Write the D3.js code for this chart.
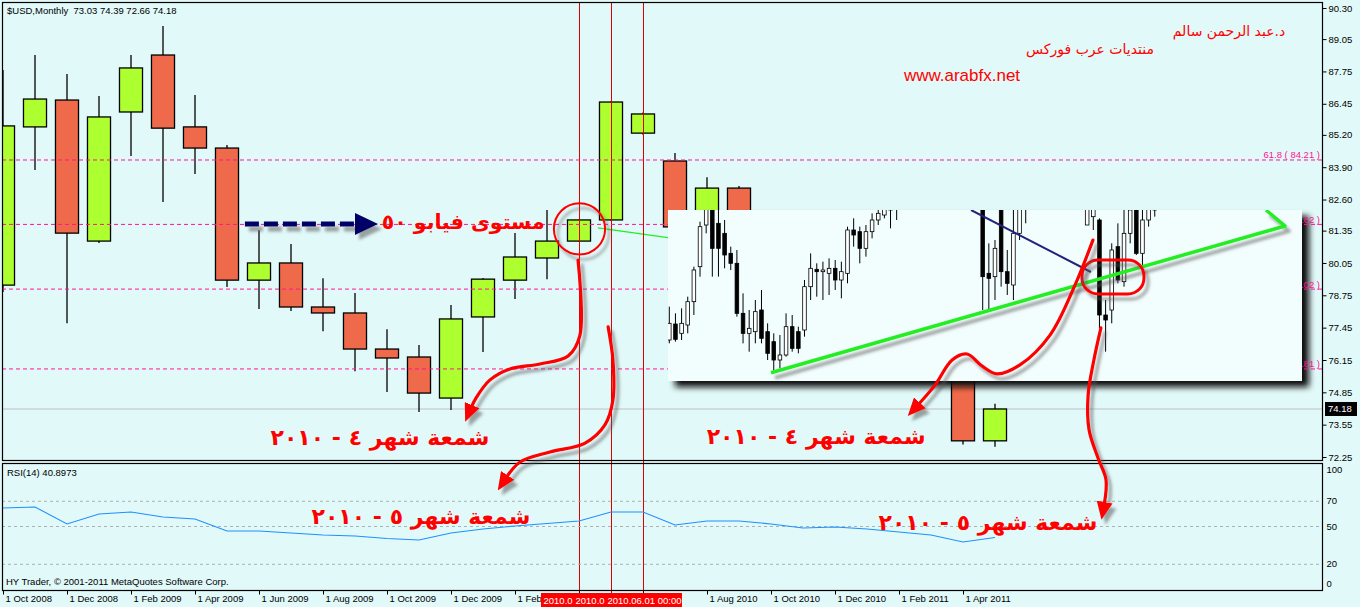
<!DOCTYPE html>
<html>
<head>
<meta charset="utf-8">
<script src="https://cdn.jsdelivr.net/npm/d3@7/dist/d3.min.js"></script>
<style>
  html, body { margin:0; padding:0; background:#e2f9f9; overflow:hidden; }
  svg { display:block; }
</style>
</head>
<body>
<svg id="chart" width="1360" height="607"></svg>
<script>
// ================= DATA =================
const months = ["2008-10","2008-11","2008-12","2009-01","2009-02","2009-03","2009-04","2009-05","2009-06","2009-07","2009-08","2009-09","2009-10","2009-11","2009-12","2010-01","2010-02","2010-03","2010-04","2010-05","2010-06","2010-07","2010-08","2010-09","2010-10","2010-11","2010-12","2011-01","2011-02","2011-03","2011-04","2011-05"];
const open  = [79.16,85.52,86.60,80.93,86.12,88.41,85.52,84.67,79.36,80.05,78.28,78.04,76.59,76.27,74.62,77.88,79.36,80.25,80.93,81.78,85.27,84.15,81.50,83.06,79.00,77.30,81.20,79.00,77.30,76.80,76.00,72.90];
const high  = [87.81,88.41,87.65,86.76,88.41,89.58,86.80,84.79,81.37,80.81,79.44,78.84,77.39,76.75,78.36,79.45,81.25,82.18,81.80,86.55,86.10,84.47,83.50,83.14,79.50,81.40,81.40,81.00,78.60,77.30,76.40,74.39];
const low   = [78.88,83.79,77.63,80.85,84.35,82.50,83.63,79.08,78.20,78.12,77.31,75.70,74.86,74.06,74.14,76.47,78.60,79.40,80.90,81.75,85.20,81.30,80.80,78.90,75.70,76.60,78.90,76.90,76.10,75.90,72.75,72.66];
const close = [85.56,86.64,81.25,85.92,87.89,85.47,84.67,79.36,80.05,78.28,78.04,76.59,76.23,74.82,77.80,79.40,80.29,80.93,81.78,86.52,86.04,81.50,83.06,79.00,77.40,81.20,79.00,77.40,76.80,76.00,72.90,74.18];
const rsi   = [64.3,65.1,51.6,59.5,61.1,57.1,55.6,46.0,46.0,44.4,42.9,42.1,40.1,38.9,44.4,47.6,50.0,52.0,54.0,61.1,61.1,50.8,54.0,54.0,51.6,48.4,49.2,47.6,45.2,42.9,37.3,40.9];

const priceTicks = [90.30,89.05,87.75,86.45,85.20,83.90,82.60,81.35,80.05,78.75,77.45,76.15,74.85,73.55,72.25];
const rsiTicks = [100,70,50,20,0];
const rsiLevels = [70,50,20];
const dateTickIdx = [0,2,4,6,8,10,12,14,16,18,20,22,24,26,28,30];
// labels at 1 Apr 2010 / 1 Jun 2010 are hidden behind the red line labels in the original
const dateTickLabels = ["1 Oct 2008","1 Dec 2008","1 Feb 2009","1 Apr 2009","1 Jun 2009","1 Aug 2009","1 Oct 2009","1 Dec 2009","1 Feb","","","1 Aug 2010","1 Oct 2010","1 Dec 2010","1 Feb 2011","1 Apr 2011"];
const fibPct   = ["61.8","50.0","38.2","23.6"];
const fibPrice = [84.21,81.62,79.02,75.81];
const vlineIdx = [18,19,20];
const vlineLabels = ["2010.0","2010.0","2010.06.01 00:00"];
const bidPrice = 74.18;
const headerText = "$USD,Monthly\u00A0 73.03 74.39 72.66 74.18";
const rsiText = "RSI(14) 40.8973";
const footerText = "HY Trader, \u00A9 2001-2011 MetaQuotes Software Corp.";

// inset (pasted daily chart) : day index, open, high, low, close (in inset units)
const insetDay = [0,1,2,3,4,5,6,7,8,9,10,11,12,13,14,15,16,17,18,19,20,21,22,23,24,25,26,27,28,29,30,31,32,33,34,35,36,37,51,52,53,54,55,56,57,58,68,69,70,71,72,73,74,75,76,77,78,79];
const insetO = [15,19.8,17,19.5,26.5,37,49.5,56,50,47,41,38,23,17,17.5,24,17.5,14.5,9,10.5,19,17.5,18,31,36.2,35.5,35,36.5,33,35,48,47.5,42.5,47.5,51,52.5,54,56,58,35,34,57,35.5,31.5,47,55,49.5,52,51,22.5,24,43,32.5,47,57,41,51,54];
const insetH = [25,23,24.5,28,37,50.5,58,58,57,51,43,42,29,24,27,30,20,17,16.5,23,22.5,19,33,41,38,38.5,39.5,39,38.5,49,51.5,49,49.5,53,56,58,58,59,60,44,45,59,42,58,59,60,59,59,51.5,27,44,50,56,58,59,58,58,58];
const insetL = [14,14.5,15,17,22.5,34,47,34,34,36.5,36,22,14,11.5,14,14,9,6,6.5,10,11.5,11,16,27,28,27,28.5,30,27.5,32,43,38,40,45.5,49.5,51.5,48.5,51,24,24,27,31,28.5,27,45,50,49.5,48,18.5,11.5,20,32,31,44,40.5,37,49,52];
const insetC = [20,15.2,20,26.5,36,49,56,42.5,42.5,40.5,38,23,17,18.5,23.5,15.5,11,9,10.5,19,12.5,12.5,31,36.5,35.5,36,36.5,33,35.5,48,46.5,42.5,47.5,51,53,56,57,58,34,33.5,42.5,35.5,32,47,56,58,57,57,22.5,21,42,33,47,54,41,51,56,57];
const insetTrend = [[16.55,5.19],[100.2,49.2],[97.1,54]];
const insetNavy  = [[49.1,54],[68.6,35.4]];
const insetRing  = {d:72.2, v:33.9};

// main-chart drawn objects (month index, price)
const greenTrend = [[18.59,81.46],[20.78,81.07]];
const ringApr = {m:18.0, p:81.42};
const dashArrow = {m0:7.56, m1:11.0, mTip:11.72, p:81.62};
const arrowA = [[17.97,80.17],[18.03,77.15],[17.66,76.31],[16.78,75.99],[15.84,75.79],[15.22,75.35],[14.78,74.62],[14.625,74.22]];
const arrowB = [[18.91,77.48],[19.06,76.15],[19.06,74.54],[18.81,73.54],[18.19,72.81],[17.09,72.45],[16.16,72.05],[15.72,71.41]];
const arrowC = [[34.06,80.97],[33.5,79.16],[32.72,77.15],[31.78,75.95],[31.06,75.59],[30.59,75.91],[30.125,76.39],[29.66,76.15],[29.125,75.14],[28.59,74.34]];
const arrowD = [[34.31,77.44],[34.09,76.15],[33.91,74.74],[33.94,73.34],[34.22,72.21],[34.47,71.33],[34.41,70.32]];
const notes = [
  {t:"مستوى فيابو ٥٠", m:14.38, p:81.70, s:20.5},
  {t:"شمعة شهر ٤ - ٢٠١٠", m:11.78, p:73.05, s:22},
  {t:"شمعة شهر ٥ - ٢٠١٠", m:13.06, p:69.84, s:22},
  {t:"شمعة شهر ٤ - ٢٠١٠", m:25.41, p:73.09, s:22},
  {t:"شمعة شهر ٥ - ٢٠١٠", m:30.78, p:69.60, s:22}
];
const signature = ["د.عبد الرحمن سالم","منتديات عرب فوركس","www.arabfx.net"];

// ================= LAYOUT / STYLE =================
const W = 1360, H = 607;
const L = {left:2, right:1322, top:2, mainBottom:460, rsiTop:463, rsiBottom:590};
const INSET = {x:668, y:210, w:634, h:171};
const C = {bg:"#e2f9f9", up:"#adff2f", down:"#ef6a4a", fib:"#ff1493", vline:"#e00000",
           rsi:"#1e90ff", grid:"#a9b3b3", bid:"#c0c0c0", red:"#ff0000", navy:"#000066"};
const FONT = "'Liberation Sans', Arial, sans-serif";
const AFONT = "'DejaVu Sans', sans-serif";

const svg = d3.select("#chart");
svg.append("rect").attr("width",W).attr("height",H).attr("fill",C.bg);

const x  = d3.scaleLinear().domain([0, months.length-1]).range([3, 995]);
const y  = d3.scaleLinear().domain([72.25, 90.30]).range([457, 8]);
const yR = d3.scaleLinear().domain([0,100]).range([589, 463]);
const xi = d3.scaleLinear().domain([0,100]).range([669.3, 1283.8]);
const yi = d3.scaleLinear().domain([0,57]).range([390, 200]);

// ---------- defs ----------
const defs = svg.append("defs");
defs.append("clipPath").attr("id","clipMain").append("rect")
  .attr("x",L.left).attr("y",L.top).attr("width",L.right-L.left).attr("height",L.mainBottom-L.top);
defs.append("clipPath").attr("id","clipRsi").append("rect")
  .attr("x",L.left).attr("y",L.rsiTop).attr("width",L.right-L.left).attr("height",L.rsiBottom-L.rsiTop);
defs.append("clipPath").attr("id","clipInset").append("rect")
  .attr("x",INSET.x).attr("y",INSET.y).attr("width",INSET.w).attr("height",INSET.h);
const fs = defs.append("filter").attr("id","shadow").attr("filterUnits","userSpaceOnUse")
  .attr("x",0).attr("y",0).attr("width",W).attr("height",H);
fs.append("feDropShadow").attr("dx",4).attr("dy",5).attr("stdDeviation",1.6)
  .attr("flood-color","#5a5a5a").attr("flood-opacity",0.55);
const fb = defs.append("filter").attr("id","blur").attr("filterUnits","userSpaceOnUse")
  .attr("x",0).attr("y",0).attr("width",W).attr("height",H);
fb.append("feGaussianBlur").attr("stdDeviation",3);
const mk = defs.append("marker").attr("id","ahRed").attr("markerUnits","userSpaceOnUse")
  .attr("viewBox","0 0 18 16").attr("markerWidth",18).attr("markerHeight",16)
  .attr("refX",3).attr("refY",8).attr("orient","auto");
mk.append("path").attr("d","M0,0 L18,8 L0,16 Z").attr("fill",C.red);

// ---------- main panel ----------
const gMain = svg.append("g").attr("clip-path","url(#clipMain)");
gMain.append("line").attr("x1",L.left).attr("x2",L.right)
  .attr("y1",y(bidPrice)).attr("y2",y(bidPrice)).attr("stroke",C.bid).attr("stroke-width",1);

const idx = d3.range(months.length);
const bw = x(0.72) - x(0);
gMain.selectAll("line.wick").data(idx).join("line").attr("class","wick")
  .attr("x1",i=>x(i)).attr("x2",i=>x(i)).attr("y1",i=>y(high[i])).attr("y2",i=>y(low[i]))
  .attr("stroke","#000").attr("stroke-width",1.3);
gMain.selectAll("rect.body").data(idx).join("rect").attr("class","body")
  .attr("x",i=>x(i)-bw/2).attr("width",bw)
  .attr("y",i=>y(Math.max(open[i],close[i])))
  .attr("height",i=>Math.max(1,Math.abs(y(open[i])-y(close[i]))))
  .attr("fill",i=>close[i]>=open[i]?C.up:C.down)
  .attr("stroke","#000").attr("stroke-width",1.3);

// thin green trendline
gMain.append("path").attr("d",d3.line().x(d=>x(d[0])).y(d=>y(d[1]))(greenTrend))
  .attr("stroke","#22ee22").attr("stroke-width",1.2).attr("fill","none");

// vertical lines
svg.selectAll("line.vl").data(vlineIdx).join("line").attr("class","vl")
  .attr("x1",d=>x(d)+0.5).attr("x2",d=>x(d)+0.5).attr("y1",L.top).attr("y2",593)
  .attr("stroke",C.vline).attr("stroke-width",1);

// inset shadow
svg.append("rect").attr("x",INSET.x+7).attr("y",INSET.y+6).attr("width",INSET.w).attr("height",INSET.h)
  .attr("fill","#111").attr("filter","url(#blur)").attr("clip-path","url(#clipMain)");

// fibonacci lines + labels
const gFib = svg.append("g").attr("clip-path","url(#clipMain)");
gFib.selectAll("line").data(fibPrice).join("line")
  .attr("x1",L.left).attr("x2",L.right).attr("y1",d=>y(d)+0.5).attr("y2",d=>y(d)+0.5)
  .attr("stroke",C.fib).attr("stroke-width",1).attr("stroke-dasharray","4,3");
gFib.selectAll("text").data(fibPrice).join("text")
  .attr("x",1320).attr("y",d=>y(d)-1).attr("text-anchor","end")
  .attr("font-family",FONT).attr("font-size",9.5).attr("fill",C.fib)
  .text((d,i)=>`${fibPct[i]} ( ${d.toFixed(2)} )`);

// ---------- inset ----------
svg.append("rect").attr("x",INSET.x).attr("y",INSET.y).attr("width",INSET.w).attr("height",INSET.h)
  .attr("fill","#f2fdfd");
const gIn = svg.append("g").attr("clip-path","url(#clipInset)");
const iIdx = d3.range(insetDay.length);
const ibw = 3.6;
gIn.selectAll("line.iw").data(iIdx).join("line").attr("class","iw")
  .attr("x1",i=>xi(insetDay[i])).attr("x2",i=>xi(insetDay[i]))
  .attr("y1",i=>yi(insetH[i])).attr("y2",i=>yi(insetL[i]))
  .attr("stroke","#000").attr("stroke-width",1);
gIn.selectAll("rect.ib").data(iIdx).join("rect").attr("class","ib")
  .attr("x",i=>xi(insetDay[i])-ibw/2).attr("width",ibw)
  .attr("y",i=>yi(Math.max(insetO[i],insetC[i])))
  .attr("height",i=>Math.max(1,Math.abs(yi(insetO[i])-yi(insetC[i]))))
  .attr("fill",i=>insetC[i]>=insetO[i]?"#ffffff":"#000000")
  .attr("stroke","#000").attr("stroke-width",0.8);
gIn.append("path").attr("d",d3.line().x(d=>xi(d[0])).y(d=>yi(d[1]))(insetNavy))
  .attr("stroke","#22227a").attr("stroke-width",2).attr("fill","none");
gIn.append("path").attr("d",d3.line().x(d=>xi(d[0])).y(d=>yi(d[1]))(insetTrend))
  .attr("stroke","#22ee22").attr("stroke-width",3.5).attr("fill","none")
  .attr("stroke-linejoin","round").attr("filter","url(#shadow)");
gIn.append("rect").attr("x",xi(insetRing.d)-31).attr("y",yi(insetRing.v)-17)
  .attr("width",62).attr("height",34).attr("rx",16)
  .attr("fill","none").attr("stroke",C.red).attr("stroke-width",3).attr("filter","url(#shadow)");

// ---------- RSI panel ----------
const gR = svg.append("g").attr("clip-path","url(#clipRsi)");
gR.selectAll("line.lvl").data(rsiLevels).join("line").attr("class","lvl")
  .attr("x1",L.left).attr("x2",L.right).attr("y1",d=>yR(d)+0.5).attr("y2",d=>yR(d)+0.5)
  .attr("stroke",C.grid).attr("stroke-dasharray","3,3");
gR.append("path").datum(rsi)
  .attr("d",d3.line().x((d,i)=>x(i)).y(d=>yR(d)))
  .attr("stroke",C.rsi).attr("stroke-width",1.1).attr("fill","none");

// ---------- frames ----------
svg.append("rect").attr("x",L.left+0.5).attr("y",L.top+0.5)
  .attr("width",L.right-L.left).attr("height",L.mainBottom-L.top)
  .attr("fill","none").attr("stroke","#000").attr("stroke-width",1.2);
svg.append("rect").attr("x",L.left+0.5).attr("y",L.rsiTop+0.5)
  .attr("width",L.right-L.left).attr("height",L.rsiBottom-L.rsiTop)
  .attr("fill","none").attr("stroke","#000").attr("stroke-width",1.2);

// ---------- axes ----------
const yAxisG = svg.append("g").attr("transform",`translate(${L.right+0.5},0)`)
  .call(d3.axisRight(y).tickValues(priceTicks).tickSize(4).tickPadding(2).tickFormat(d3.format(".2f")));
yAxisG.select(".domain").remove();
yAxisG.attr("font-family",FONT).attr("font-size",9.5);
yAxisG.selectAll("text").attr("fill","#000");
yAxisG.selectAll("line").attr("stroke","#000");

const rAxisG = svg.append("g").attr("transform",`translate(${L.right+0.5},0)`)
  .call(d3.axisRight(yR).tickValues(rsiTicks).tickSize(0).tickPadding(4));
rAxisG.select(".domain").remove();
rAxisG.attr("font-family",FONT).attr("font-size",9.5);
rAxisG.selectAll("text").attr("fill","#000")
  .attr("dy",d=>d===100?"1.0em":(d===0?"-0.3em":"0.32em"));

const xAxisG = svg.append("g").attr("transform",`translate(0,${L.rsiBottom+0.5})`)
  .call(d3.axisBottom(x).tickValues(dateTickIdx).tickSize(4).tickPadding(2)
    .tickFormat(d=>dateTickLabels[dateTickIdx.indexOf(d)]));
xAxisG.select(".domain").remove();
xAxisG.attr("font-family",FONT).attr("font-size",9.5);
xAxisG.selectAll("text").attr("fill","#000").attr("text-anchor","start").attr("x",2).attr("dy","0.55em");
xAxisG.selectAll("line").attr("stroke","#000");

// vertical-line labels on time axis (each partly covered by the next one)
const vlab = svg.append("g");
vlineIdx.forEach((d,i)=>{
  const x0 = x(d) - 38;
  const x1 = i < vlineIdx.length-1 ? x(vlineIdx[i+1]) - 38 : x(d) + 39;
  vlab.append("rect").attr("x",x0).attr("y",593).attr("width",x1-x0).attr("height",14).attr("fill","#ff0000");
  vlab.append("text").attr("x",x0+2.5).attr("y",603.5)
    .attr("font-family",FONT).attr("font-size",9.5).attr("fill","#fff").text(vlineLabels[i]);
});

// bid price label
svg.append("rect").attr("x",1325).attr("y",y(bidPrice)-7).attr("width",32).attr("height",14).attr("fill","#000");
svg.append("text").attr("x",1328).attr("y",y(bidPrice)+3.5).attr("font-family",FONT).attr("font-size",9.5)
  .attr("fill","#fff").text(bidPrice.toFixed(2));

// text labels
svg.append("text").attr("x",7).attr("y",14).attr("font-family",FONT).attr("font-size",9.5).attr("fill","#000").text(headerText);
svg.append("text").attr("x",7).attr("y",476).attr("font-family",FONT).attr("font-size",9.5).attr("fill","#000").text(rsiText);
svg.append("text").attr("x",6).attr("y",585).attr("font-family",FONT).attr("font-size",9.5).attr("fill","#000").text(footerText);

// ---------- annotations ----------
const gA = svg.append("g").attr("filter","url(#shadow)");
// navy dashed arrow
gA.append("line").attr("x1",x(dashArrow.m0)).attr("x2",x(dashArrow.m1))
  .attr("y1",y(dashArrow.p)).attr("y2",y(dashArrow.p))
  .attr("stroke",C.navy).attr("stroke-width",5).attr("stroke-dasharray","14,5");
gA.append("path").attr("d",`M${x(dashArrow.m1)},${y(dashArrow.p)-11} L${x(dashArrow.mTip)},${y(dashArrow.p)} L${x(dashArrow.m1)},${y(dashArrow.p)+11} Z`)
  .attr("fill",C.navy);
// ring around April 2010 candle
gA.append("circle").attr("cx",x(ringApr.m)+0.5).attr("cy",y(ringApr.p)).attr("r",x(0.8)-x(0))
  .attr("fill","none").attr("stroke",C.red).attr("stroke-width",2);
// curved red arrows
const curve = d3.line().x(d=>x(d[0])).y(d=>y(d[1])).curve(d3.curveCatmullRom.alpha(0.5));
[arrowA, arrowB, arrowC, arrowD].forEach(a=>{
  gA.append("path").attr("d",curve(a)).attr("fill","none").attr("stroke",C.red)
    .attr("stroke-width",3.2).attr("stroke-linecap","round").attr("marker-end","url(#ahRed)");
});

// Arabic notes
svg.selectAll("text.note").data(notes).join("text").attr("class","note")
  .attr("x",d=>x(d.m)).attr("y",d=>y(d.p)).attr("text-anchor","middle").attr("dominant-baseline","central")
  .attr("direction","rtl").attr("font-family",AFONT).attr("font-weight","bold").attr("font-size",d=>d.s)
  .attr("fill",C.red).text(d=>d.t);

// signature
svg.append("text").attr("x",1229).attr("y",36).attr("text-anchor","middle").attr("direction","rtl")
  .attr("font-family",AFONT).attr("font-size",14).attr("fill",C.red).text(signature[0]);
svg.append("text").attr("x",1090).attr("y",54).attr("text-anchor","middle").attr("direction","rtl")
  .attr("font-family",AFONT).attr("font-size",14).attr("fill",C.red).text(signature[1]);
svg.append("text").attr("x",962).attr("y",81).attr("text-anchor","middle")
  .attr("font-family",FONT).attr("font-size",17).attr("fill",C.red).text(signature[2]);
</script>
</body>
</html>
